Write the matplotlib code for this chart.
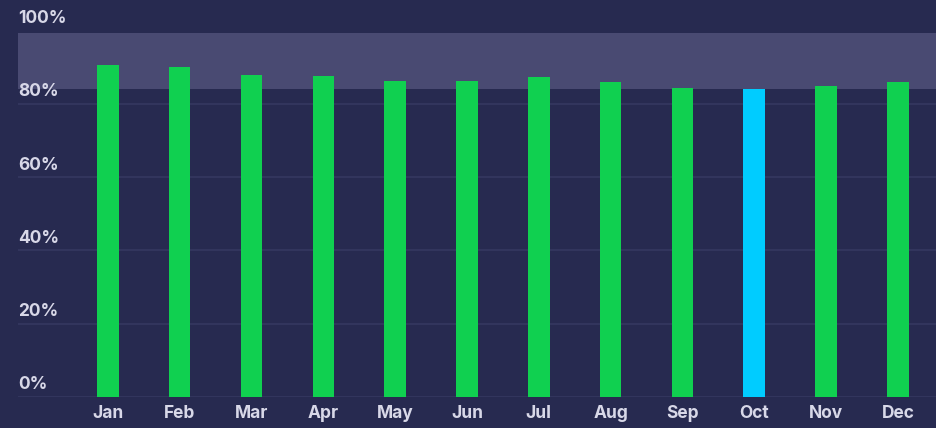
import matplotlib
matplotlib.use('Agg')
import matplotlib.pyplot as plt
import numpy as np

months = ['Jan', 'Feb', 'Mar', 'Apr', 'May', 'Jun', 'Jul', 'Aug', 'Sep', 'Oct', 'Nov', 'Dec']
values = [90.5, 90.2, 88.0, 87.7, 86.2, 86.2, 87.3, 85.9, 84.4, 84.1, 84.8, 85.9]
highlight = 'Oct'
y_ticks = [0, 20, 40, 60, 80, 100]
band = (84.2, 99.3)

bg = '#272a50'
green = '#10d050'
cyan = '#00ccff'
text_col = '#d8d8e8'

fig = plt.figure(figsize=(9.36, 4.28), dpi=100)
fig.patch.set_facecolor(bg)
ax = fig.add_axes([18 / 936, 31 / 428, 1 - 18 / 936, 366.3 / 428])
ax.set_facecolor(bg)

x = np.arange(len(months))
colors = [cyan if m == highlight else green for m in months]

# shaded target band
ax.axhspan(band[0], band[1], color='#494a72', zorder=0, lw=0)

for v in y_ticks[:-1]:
    ax.axhline(v, color='#34375f', lw=1.3, zorder=1)

ax.bar(x, values, width=0.3, color=colors, zorder=2)

ax.set_xlim(-1.25, 11.53)
ax.set_ylim(0, 100)

ax.set_xticks(x)
ax.set_xticklabels(months, color=text_col, fontsize=12.5, fontweight='bold', family='Inter')
ax.tick_params(axis='x', length=0, pad=6)
ax.set_yticks([])

for v in y_ticks:
    ax.text(-1.25, v + 3.3, f'{v}%', color=text_col, fontsize=12.5, fontweight='bold',
            family='Inter', va='center', ha='left')

for s in ax.spines.values():
    s.set_visible(False)

plt.savefig('out.png', dpi=100, facecolor=bg)
